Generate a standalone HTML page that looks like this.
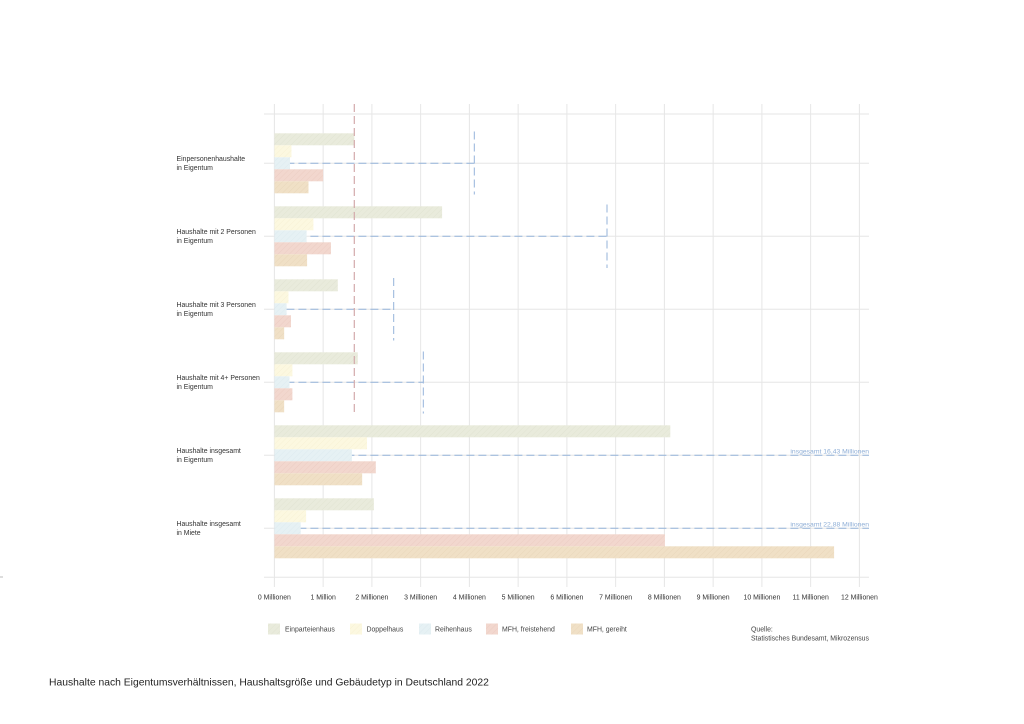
<!DOCTYPE html>
<html>
<head>
<meta charset="utf-8">
<style>
html,body{margin:0;padding:0;background:#fff;}
svg{display:block;}
text{font-family:"Liberation Sans",Arial,sans-serif;}
</style>
</head>
<body>
<svg width="1024" height="724" viewBox="0 0 1024 724" xmlns="http://www.w3.org/2000/svg">
<defs>
<pattern id="p1" width="4" height="4" patternUnits="userSpaceOnUse" patternTransform="rotate(45)">
<rect width="4" height="4" fill="#e9ebdc"/><line x1="0" y1="0" x2="0" y2="4" stroke="#e1e4d2" stroke-width="1"/></pattern>
<pattern id="p2" width="4" height="4" patternUnits="userSpaceOnUse" patternTransform="rotate(45)">
<rect width="4" height="4" fill="#fcf8e0"/><line x1="0" y1="0" x2="0" y2="4" stroke="#f7f1d5" stroke-width="1"/></pattern>
<pattern id="p3" width="4" height="4" patternUnits="userSpaceOnUse" patternTransform="rotate(45)">
<rect width="4" height="4" fill="#e6f1f4"/><line x1="0" y1="0" x2="0" y2="4" stroke="#ddebef" stroke-width="1"/></pattern>
<pattern id="p4" width="4" height="4" patternUnits="userSpaceOnUse" patternTransform="rotate(45)">
<rect width="4" height="4" fill="#f2d7ce"/><line x1="0" y1="0" x2="0" y2="4" stroke="#eccdc3" stroke-width="1"/></pattern>
<pattern id="p5" width="4" height="4" patternUnits="userSpaceOnUse" patternTransform="rotate(45)">
<rect width="4" height="4" fill="#f0e0c6"/><line x1="0" y1="0" x2="0" y2="4" stroke="#e9d7bb" stroke-width="1"/></pattern>
</defs>

<!-- grid -->
<g stroke="#e6e6e6" stroke-width="1">
<line x1="274.4" y1="104" x2="274.4" y2="587"/>
<line x1="323.15" y1="104" x2="323.15" y2="587"/>
<line x1="371.9" y1="104" x2="371.9" y2="587"/>
<line x1="420.65" y1="104" x2="420.65" y2="587"/>
<line x1="469.4" y1="104" x2="469.4" y2="587"/>
<line x1="518.15" y1="104" x2="518.15" y2="587"/>
<line x1="566.9" y1="104" x2="566.9" y2="587"/>
<line x1="615.65" y1="104" x2="615.65" y2="587"/>
<line x1="664.4" y1="104" x2="664.4" y2="587"/>
<line x1="713.15" y1="104" x2="713.15" y2="587"/>
<line x1="761.9" y1="104" x2="761.9" y2="587"/>
<line x1="810.65" y1="104" x2="810.65" y2="587"/>
<line x1="859.4" y1="104" x2="859.4" y2="587"/>
<line x1="264" y1="114" x2="869" y2="114"/>
<line x1="264" y1="163.3" x2="869" y2="163.3"/>
<line x1="264" y1="236.3" x2="869" y2="236.3"/>
<line x1="264" y1="309.3" x2="869" y2="309.3"/>
<line x1="264" y1="382.3" x2="869" y2="382.3"/>
<line x1="264" y1="455.3" x2="869" y2="455.3"/>
<line x1="264" y1="528.3" x2="869" y2="528.3"/>
<line x1="264" y1="577.3" x2="869" y2="577.3"/>
</g>
<line x1="0" y1="577" x2="3" y2="577" stroke="#bbb" stroke-width="1"/>

<!-- blue total dashed lines (under bars) -->
<g stroke="#94b3da" stroke-width="1" stroke-dasharray="8,4" fill="none">
<line x1="274.4" y1="163.3" x2="474.3" y2="163.3"/>
<line x1="274.4" y1="236.3" x2="607" y2="236.3"/>
<line x1="274.4" y1="309.3" x2="393.7" y2="309.3"/>
<line x1="274.4" y1="382.3" x2="423.3" y2="382.3"/>
<line x1="274.4" y1="455.3" x2="869" y2="455.3"/>
<line x1="274.4" y1="528.3" x2="869" y2="528.3"/>
</g>

<!-- bars -->
<g>
<rect x="274.4" y="133.3" width="79.95" height="12" fill="url(#p1)"/>
<rect x="274.4" y="145.3" width="17.06" height="12" fill="url(#p2)"/>
<rect x="274.4" y="157.3" width="15.6" height="12" fill="url(#p3)"/>
<rect x="274.4" y="169.3" width="48.75" height="12" fill="url(#p4)"/>
<rect x="274.4" y="181.3" width="34.1" height="12" fill="url(#p5)"/>
<rect x="274.4" y="206.3" width="167.7" height="12" fill="url(#p1)"/>
<rect x="274.4" y="218.3" width="39" height="12" fill="url(#p2)"/>
<rect x="274.4" y="230.3" width="32.2" height="12" fill="url(#p3)"/>
<rect x="274.4" y="242.3" width="56.55" height="12" fill="url(#p4)"/>
<rect x="274.4" y="254.3" width="32.7" height="12" fill="url(#p5)"/>
<rect x="274.4" y="279.3" width="63.4" height="12" fill="url(#p1)"/>
<rect x="274.4" y="291.3" width="14.1" height="12" fill="url(#p2)"/>
<rect x="274.4" y="303.3" width="12.2" height="12" fill="url(#p3)"/>
<rect x="274.4" y="315.3" width="16.6" height="12" fill="url(#p4)"/>
<rect x="274.4" y="327.3" width="9.75" height="12" fill="url(#p5)"/>
<rect x="274.4" y="352.3" width="83.4" height="12" fill="url(#p1)"/>
<rect x="274.4" y="364.3" width="18" height="12" fill="url(#p2)"/>
<rect x="274.4" y="376.3" width="15.1" height="12" fill="url(#p3)"/>
<rect x="274.4" y="388.3" width="18" height="12" fill="url(#p4)"/>
<rect x="274.4" y="400.3" width="9.75" height="12" fill="url(#p5)"/>
<rect x="274.4" y="425.3" width="395.9" height="12" fill="url(#p1)"/>
<rect x="274.4" y="437.3" width="92.6" height="12" fill="url(#p2)"/>
<rect x="274.4" y="449.3" width="77.5" height="12" fill="url(#p3)"/>
<rect x="274.4" y="461.3" width="101.4" height="12" fill="url(#p4)"/>
<rect x="274.4" y="473.3" width="87.75" height="12" fill="url(#p5)"/>
<rect x="274.4" y="498.3" width="99.45" height="12" fill="url(#p1)"/>
<rect x="274.4" y="510.3" width="31.7" height="12" fill="url(#p2)"/>
<rect x="274.4" y="522.3" width="26.3" height="12" fill="url(#p3)"/>
<rect x="274.4" y="534.3" width="390.5" height="12" fill="url(#p4)"/>
<rect x="274.4" y="546.3" width="559.7" height="12" fill="url(#p5)"/>
</g>

<!-- red vertical dashed -->
<line x1="354.3" y1="104" x2="354.3" y2="413" stroke="#d3a9ab" stroke-width="1.2" stroke-dasharray="8,4"/>

<!-- blue vertical dashed -->
<g stroke="#94b3da" stroke-width="1" stroke-dasharray="8,4" fill="none">
<line x1="474.3" y1="131.5" x2="474.3" y2="194.5"/>
<line x1="607" y1="204.5" x2="607" y2="268"/>
<line x1="393.7" y1="278" x2="393.7" y2="340.5"/>
<line x1="423.3" y1="351.5" x2="423.3" y2="413.5"/>
</g>

<!-- total labels -->
<g fill="#8eaed6" font-size="6.8" text-anchor="end">
<text x="869" y="453.5">insgesamt 16,43 Millionen</text>
<text x="869" y="526.5">insgesamt 22,88 Millionen</text>
</g>

<!-- y labels -->
<g fill="#333" font-size="6.9">
<text x="176.5" y="161">Einpersonenhaushalte</text>
<text x="176.5" y="170">in Eigentum</text>
<text x="176.5" y="234">Haushalte mit 2 Personen</text>
<text x="176.5" y="243">in Eigentum</text>
<text x="176.5" y="307">Haushalte mit 3 Personen</text>
<text x="176.5" y="316">in Eigentum</text>
<text x="176.5" y="380">Haushalte mit 4+ Personen</text>
<text x="176.5" y="389">in Eigentum</text>
<text x="176.5" y="453">Haushalte insgesamt</text>
<text x="176.5" y="462">in Eigentum</text>
<text x="176.5" y="526">Haushalte insgesamt</text>
<text x="176.5" y="535">in Miete</text>
</g>

<!-- x tick labels -->
<g fill="#333" font-size="6.9" text-anchor="middle">
<text x="274.4" y="599.5">0 Millionen</text>
<text x="323.15" y="599.5">1 Million</text>
<text x="371.9" y="599.5">2 Millionen</text>
<text x="420.65" y="599.5">3 Millionen</text>
<text x="469.4" y="599.5">4 Millionen</text>
<text x="518.15" y="599.5">5 Millionen</text>
<text x="566.9" y="599.5">6 Millionen</text>
<text x="615.65" y="599.5">7 Millionen</text>
<text x="664.4" y="599.5">8 Millionen</text>
<text x="713.15" y="599.5">9 Millionen</text>
<text x="761.9" y="599.5">10 Millionen</text>
<text x="810.65" y="599.5">11 Millionen</text>
<text x="859.4" y="599.5">12 Millionen</text>
</g>

<!-- legend -->
<rect x="268" y="623.5" width="12" height="11" fill="url(#p1)"/>
<rect x="350" y="623.5" width="12" height="11" fill="url(#p2)"/>
<rect x="419" y="623.5" width="12" height="11" fill="url(#p3)"/>
<rect x="486" y="623.5" width="12" height="11" fill="url(#p4)"/>
<rect x="571" y="623.5" width="12" height="11" fill="url(#p5)"/>
<g fill="#444" font-size="6.9">
<text x="285" y="631.5">Einparteienhaus</text>
<text x="366.5" y="631.5">Doppelhaus</text>
<text x="435" y="631.5">Reihenhaus</text>
<text x="502" y="631.5">MFH, freistehend</text>
<text x="587" y="631.5">MFH, gereiht</text>
</g>

<!-- source -->
<g fill="#444" font-size="6.9">
<text x="751" y="631.5">Quelle:</text>
<text x="751" y="640.5">Statistisches Bundesamt, Mikrozensus</text>
</g>

<!-- title -->
<text x="49" y="685.5" font-size="10.35" fill="#222">Haushalte nach Eigentumsverhältnissen, Haushaltsgröße und Gebäudetyp in Deutschland 2022</text>
</svg>
</body>
</html>
